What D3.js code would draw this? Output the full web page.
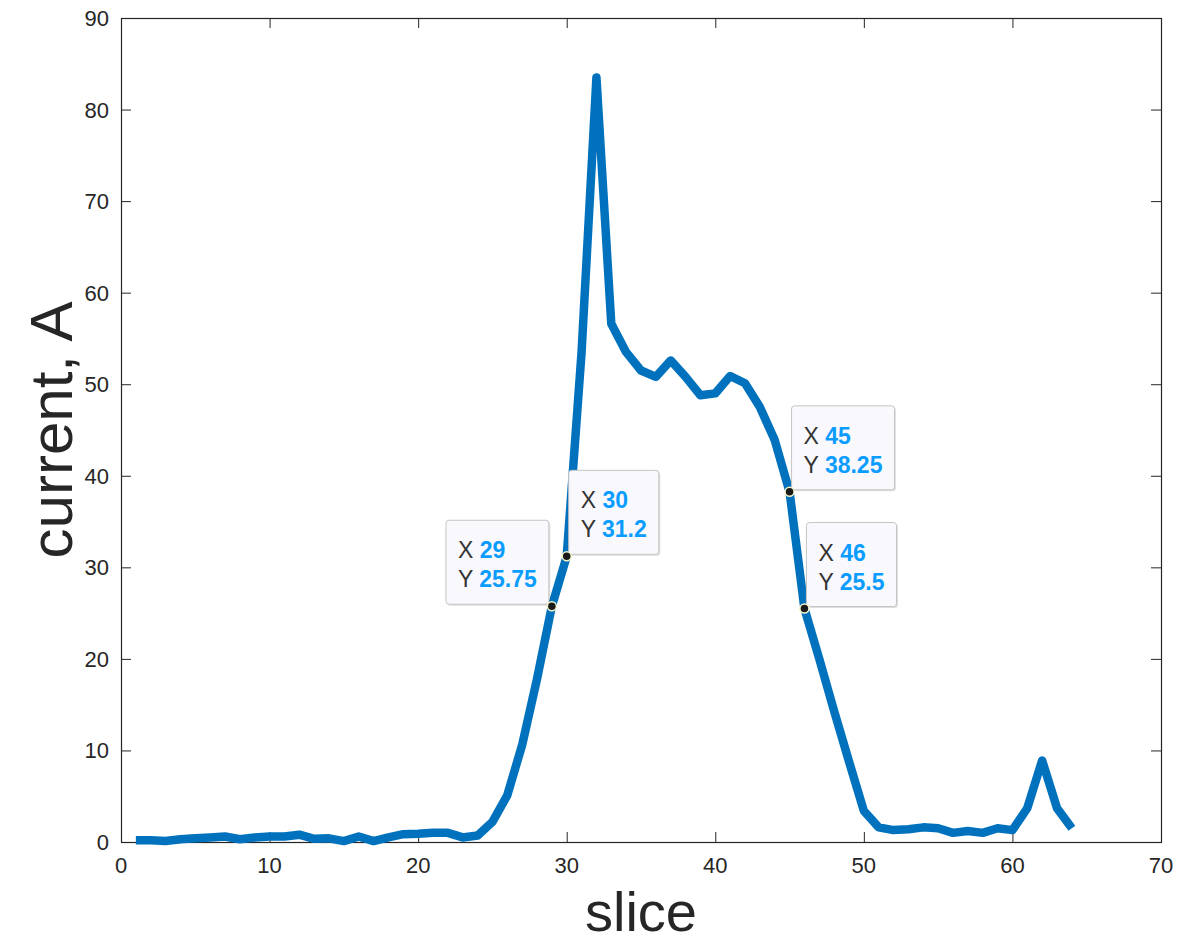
<!DOCTYPE html>
<html>
<head>
    <title>current vs slice</title>
    <script src="https://cdnjs.cloudflare.com/ajax/libs/d3/7.8.5/d3.min.js"></script>
    <style>
        body { margin: 0; background: #fff; }
        text { font-family: "Liberation Sans", Arial, Helvetica, sans-serif; }
        .tick-label { font-size: 22px; fill: #262626; }
        .axis-title { fill: #262626; }
        .tip-key { fill: #333; }
        .tip-val { fill: #0a9cff; font-weight: bold; }
    </style>
</head>
<body>
    <div id="chart"></div>
    <script>
        // slices 1..64 and the measured current at each
        const slices = d3.range(1, 65);
        const current = [
            0.2, 0.2, 0.1, 0.3, 0.4, 0.5, 0.6, 0.3, 0.5, 0.6,
            0.6, 0.8, 0.35, 0.4, 0.1, 0.6, 0.1, 0.5, 0.85, 0.9,
            1.0, 1.0, 0.5, 0.7, 2.2, 5.1, 10.6, 17.8, 25.75, 31.2,
            53.5, 83.5, 56.6, 53.5, 51.5, 50.8, 52.6, 50.8, 48.8, 49.0,
            50.9, 50.1, 47.5, 43.9, 38.25, 25.5, 20.0, 14.3, 8.8, 3.4,
            1.6, 1.3, 1.4, 1.6, 1.5, 1.0, 1.2, 1.0, 1.5, 1.3,
            3.7, 8.9, 3.7, 1.5
        ];

        const xTicks = [0, 10, 20, 30, 40, 50, 60, 70];
        const yTicks = [0, 10, 20, 30, 40, 50, 60, 70, 80, 90];

        // data tips: slice, label for Y, which side the box sits on
        const tipSlices = [29, 30, 45, 46];
        const tipLabels = ['25.75', '31.2', '38.25', '25.5'];
        const tipSides = ['left', 'right', 'right', 'right'];

        const margin = { top: 18, right: 19, bottom: 101, left: 121 };
        const W = 1180, H = 943;
        const width = W - margin.left - margin.right;
        const height = H - margin.top - margin.bottom;

        const svg = d3.select('#chart').append('svg')
            .attr('width', W)
            .attr('height', H);

        const g = svg.append('g')
            .attr('transform', `translate(${margin.left},${margin.top})`);

        const x = d3.scaleLinear().domain([0, 70]).range([0, width]);
        const y = d3.scaleLinear().domain([0, 90]).range([height, 0]);

        const axisColor = '#262626';

        // box
        g.append('rect')
            .attr('x', 0.5).attr('y', 0.5)
            .attr('width', width).attr('height', height)
            .attr('fill', 'none')
            .attr('stroke', axisColor)
            .attr('stroke-width', 1.2);

        // inward ticks on all four sides
        const tickLen = 10;
        g.selectAll('.xt-b').data(xTicks).enter().append('line')
            .attr('x1', d => x(d) + 0.5).attr('x2', d => x(d) + 0.5)
            .attr('y1', height).attr('y2', height - tickLen)
            .attr('stroke', axisColor);
        g.selectAll('.xt-t').data(xTicks).enter().append('line')
            .attr('x1', d => x(d) + 0.5).attr('x2', d => x(d) + 0.5)
            .attr('y1', 0).attr('y2', tickLen)
            .attr('stroke', axisColor);
        g.selectAll('.yt-l').data(yTicks).enter().append('line')
            .attr('x1', 0).attr('x2', tickLen)
            .attr('y1', d => y(d) + 0.5).attr('y2', d => y(d) + 0.5)
            .attr('stroke', axisColor);
        g.selectAll('.yt-r').data(yTicks).enter().append('line')
            .attr('x1', width).attr('x2', width - tickLen)
            .attr('y1', d => y(d) + 0.5).attr('y2', d => y(d) + 0.5)
            .attr('stroke', axisColor);

        // tick labels
        g.selectAll('.xl').data(xTicks).enter().append('text')
            .attr('class', 'tick-label')
            .attr('x', d => x(d))
            .attr('y', height + 31)
            .attr('text-anchor', 'middle')
            .text(d => d);
        g.selectAll('.yl').data(yTicks).enter().append('text')
            .attr('class', 'tick-label')
            .attr('x', -12)
            .attr('y', d => y(d) + 8)
            .attr('text-anchor', 'end')
            .text(d => d);

        // axis titles
        g.append('text')
            .attr('class', 'axis-title')
            .attr('font-size', 56)
            .attr('x', width / 2)
            .attr('y', height + 89)
            .attr('text-anchor', 'middle')
            .text('slice');
        g.append('text')
            .attr('class', 'axis-title')
            .attr('font-size', 60)
            .attr('transform', `translate(-49,${height / 2}) rotate(-90)`)
            .attr('text-anchor', 'middle')
            .text('current, A');

        // the curve
        const line = d3.line()
            .x((d, i) => x(slices[i]))
            .y(d => y(d));

        g.append('path')
            .datum(current)
            .attr('d', line)
            .attr('fill', 'none')
            .attr('stroke', '#0072BD')
            .attr('stroke-width', 8.5)
            .attr('stroke-linejoin', 'round')
            .attr('stroke-linecap', 'butt');

        // data tips
        tipSlices.forEach((s, k) => {
            const px = x(s);
            const py = y(current[s - 1]);
            const tg = g.append('g');

            const t1 = tg.append('text').attr('font-size', 23);
            t1.append('tspan').attr('class', 'tip-key').text('X ');
            t1.append('tspan').attr('class', 'tip-val').text(s);
            const t2 = tg.append('text').attr('font-size', 23);
            t2.append('tspan').attr('class', 'tip-key').text('Y ');
            t2.append('tspan').attr('class', 'tip-val').text(tipLabels[k]);

            const tw = Math.max(t1.node().getComputedTextLength(), t2.node().getComputedTextLength());
            const bw = tw + 24, bh = 84;
            const bx = tipSides[k] === 'left' ? px - 3 - bw : px + 2;
            const by = py - 2 - bh;

            tg.insert('rect', 'text')
                .attr('x', bx + 1.5).attr('y', by + 1.5)
                .attr('width', bw).attr('height', bh)
                .attr('rx', 3)
                .attr('fill', 'rgba(0,0,0,0.12)');
            tg.insert('rect', 'text')
                .attr('x', bx).attr('y', by)
                .attr('width', bw).attr('height', bh)
                .attr('rx', 3)
                .attr('fill', '#f9f9fd')
                .attr('stroke', '#c4c4c4')
                .attr('stroke-width', 1);

            t1.attr('x', bx + 12).attr('y', by + 38);
            t2.attr('x', bx + 12).attr('y', by + 67);

            g.append('circle')
                .attr('cx', px).attr('cy', py)
                .attr('r', 4.5)
                .attr('fill', '#1a1a1a')
                .attr('stroke', '#f4f4c8')
                .attr('stroke-width', 1.5);
        });
    </script>
</body>
</html>
